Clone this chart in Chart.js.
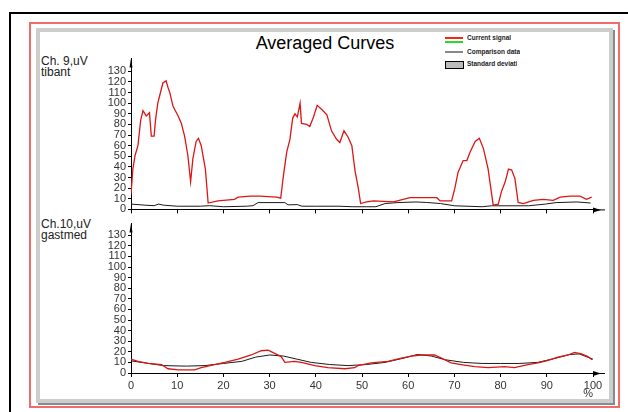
<!DOCTYPE html>
<html>
<head>
<meta charset="utf-8">
<script src="https://cdn.jsdelivr.net/npm/chart.js@4"></script>
<style>
body { margin: 0; width: 628px; height: 412px; background: #fff; position: relative; overflow: hidden; font-family: "Liberation Sans", Arial, sans-serif; }
#outer { position: absolute; left: 9px; top: 12px; width: 640px; height: 420px; border: 2px solid #000; }
#red { position: absolute; left: 29px; top: 22px; width: 587px; height: 382px; border: 2px solid #f26a6a; }
#frame { position: absolute; left: 36px; top: 28px; width: 569px; height: 367px; border: 4px solid #cdcdcd; box-shadow: 2px 2px 0 #8a8a8a; background: #fff; }
.lbl { position: absolute; font-size: 12px; color: #222; line-height: 11px; }
#title { position: absolute; left: 0; top: 33px; width: 650px; text-align: center; font-size: 18px; color: #000; }
.leg { position: absolute; font-size: 6.5px; font-weight: bold; color: #222; line-height: 8px; white-space: nowrap; overflow: hidden; }
.sw { position: absolute; }
canvas { position: absolute; }
</style>
</head>
<body>
<div id="outer"></div>
<div id="red"></div>
<div id="frame"></div>

<div id="title">Averaged Curves</div>

<div class="sw" style="left:445px;top:37px;width:18px;height:1.5px;background:#ff2020"></div>
<div class="sw" style="left:445px;top:41px;width:18px;height:1.5px;background:#20e020"></div>
<div class="leg" style="left:467px;top:34px;">Current signal</div>
<div class="sw" style="left:445px;top:51px;width:18px;height:2px;background:#888"></div>
<div class="leg" style="left:467px;top:48px;">Comparison data</div>
<div class="sw" style="left:445px;top:61px;width:17px;height:6px;background:#bbb;border:1px solid #000"></div>
<div class="leg" style="left:467px;top:60px;width:50px;">Standard deviation</div>

<div class="lbl" style="left:41px;top:56px;">Ch. 9,uV<br>tibant</div>
<div class="lbl" style="left:41px;top:219px;">Ch.10,uV<br>gastmed</div>

<canvas id="topChart" width="570" height="168" style="left:40px;top:50px;"></canvas>
<canvas id="bottomChart" width="570" height="186" style="left:40px;top:215px;"></canvas>

<script>
// Ch. 9 (tibant) - current signal
const ch9CurPct = [0, 0.4, 0.9, 1.5, 2.1, 2.6, 3.3, 4.0, 4.4, 5.0, 5.3, 5.8, 6.2, 6.9, 7.6, 8.0, 8.4, 9.1, 10.2, 10.9,
    11.6, 12.3, 12.9, 13.4, 14.1, 14.6, 15.2, 16.1, 16.7, 18.8, 22.4, 23.2, 25.8, 27.9, 31.5, 32.4, 33.0, 33.7, 34.4, 35.0,
    35.5, 36.0, 36.6, 36.9, 38.0, 38.7, 39.5, 40.3, 41.3, 42.4, 43.4, 44.5, 45.2, 46.1, 47.0, 47.8, 48.5, 49.2, 49.7, 51.0,
    52.5, 56.8, 58.9, 60.4, 64.0, 66.2, 66.9, 69.4, 70.1, 70.8, 71.9, 72.7, 73.4, 74.5, 75.4, 76.3, 77.3, 78.4, 79.5, 80.2,
    81.0, 81.7, 82.4, 83.1, 83.8, 84.9, 87.1, 89.2, 91.4, 92.9, 95.0, 97.2, 98.6, 99.7];
const ch9CurVal = [14, 38, 51, 60, 84, 93, 88, 91, 69, 69, 84, 100, 107, 119, 121, 115, 110, 97, 88, 81,
    69, 51, 26, 48, 64, 67, 60, 38, 6, 8, 9.5, 11.5, 12.5, 12.5, 11.5, 10.5, 32, 54, 66, 86,
    90, 87, 100, 81, 80, 78, 87, 98, 94, 89, 74, 66, 63, 74, 68, 60, 36, 20, 5.5, 7,
    8, 7, 9.5, 11, 11, 11, 8, 8, 20, 35, 46, 46, 54, 64, 67, 57, 38, 4, 5, 17,
    26, 38, 37, 29, 6.5, 5.5, 8.5, 9.5, 8.5, 11.5, 12.5, 12.5, 9.5, 11.5];

// Ch. 9 (tibant) - comparison data
const ch9CmpPct = [0, 3, 5, 6, 7, 10, 15, 17, 20, 25, 26.4, 27.5, 33.3, 34, 36, 37, 40, 45, 48, 51,
    53, 55, 57.6, 61.7, 64, 67, 70, 76, 78, 86, 89.7, 92, 96.5, 99.5];
const ch9CmpVal = [5, 4, 3.5, 5, 4, 3, 3, 3.5, 2.5, 3, 3.5, 6.4, 6.4, 4.3, 4.5, 3, 3, 3, 2.5, 2.5,
    2.5, 5.5, 6.4, 7, 6.5, 5.5, 3.4, 2.5, 3.4, 3.4, 5, 6.4, 7, 6];

// Ch.10 (gastmed) - current signal
const ch10CurPct = [0, 1.5, 3.7, 6.6, 8, 10.2, 13.8, 15.2, 18.1, 20.3, 23.2, 26, 28.2, 29.7, 31.1, 32.5, 33.3, 35.4, 36.9, 39.8,
    42.6, 46.3, 48.4, 49.1, 52, 55.6, 58.5, 60.7, 62.8, 65.7, 67.2, 69.3, 71.5, 74.4, 77.3, 80.9, 83, 85.9, 88.1, 90.3,
    92.4, 94.6, 96, 97.5, 98.9, 99.8];
const ch10CurVal = [13, 11, 9, 8, 4, 3, 3, 5, 8, 10, 13, 17, 21, 21.5, 18.5, 15.5, 10, 11, 10, 7,
    5, 4, 5, 7, 9.5, 11, 14, 16, 17, 17, 14, 9.5, 8, 6, 5, 6, 5, 8, 9.5, 12,
    15, 17, 19.5, 18, 15.5, 12.5];

// Ch.10 (gastmed) - comparison data
const ch10CmpPct = [0, 3, 7, 12, 16, 20, 24, 27, 30, 33, 36, 39, 43, 47, 51, 55, 59, 62, 65, 68,
    72, 76, 80, 84, 88, 92, 95, 97, 100];
const ch10CmpVal = [11.5, 9.5, 7, 6.5, 7, 9, 11, 15, 17, 16, 13, 10, 8, 7, 8, 10, 14, 17.5, 16, 12.5,
    10, 9, 9, 9, 10, 14, 17.5, 18, 13];

const xTicks = [0, 10, 20, 30, 40, 50, 60, 70, 80, 90, 100];
const yTicks = [0, 10, 20, 30, 40, 50, 60, 70, 80, 90, 100, 110, 120, 130];

const toPoints = (xs, ys) => xs.map((x, i) => ({ x: x, y: ys[i] }));

Chart.defaults.font.family = '"Liberation Sans", Arial, sans-serif';
Chart.defaults.font.size = 11;
Chart.defaults.color = '#333';

// axis arrows (x axis extension + arrow head, small arrow on top of y axis)
const arrowPlugin = {
    id: 'arrows',
    afterDraw(chart) {
        const ctx = chart.ctx;
        const a = chart.chartArea;
        ctx.save();
        ctx.strokeStyle = '#000';
        ctx.fillStyle = '#000';
        ctx.lineWidth = 1;
        ctx.beginPath();
        ctx.moveTo(a.right, a.bottom + 0.5);
        ctx.lineTo(a.right + 12, a.bottom + 0.5);
        ctx.stroke();
        ctx.beginPath();
        ctx.moveTo(a.right, a.bottom - 2);
        ctx.lineTo(a.right + 8, a.bottom + 0.5);
        ctx.lineTo(a.right, a.bottom + 3);
        ctx.closePath();
        ctx.fill();
        ctx.beginPath();
        ctx.moveTo(a.left, a.top);
        ctx.lineTo(a.left - 1.5, a.top + 9);
        ctx.lineTo(a.left + 1.5, a.top + 9);
        ctx.closePath();
        ctx.fill();
        ctx.restore();
    }
};

function makeChart(id, cur, cmp, yMax, padTop, xHeight, showLabels) {
    return new Chart(document.getElementById(id).getContext('2d'), {
        type: 'line',
        data: {
            datasets: [
                { label: 'Current signal', data: cur, borderColor: '#dd1515', borderWidth: 1.3, pointRadius: 0, tension: 0, fill: false },
                { label: 'Comparison data', data: cmp, borderColor: '#1a1a1a', borderWidth: 1, pointRadius: 0, tension: 0, fill: false }
            ]
        },
        options: {
            responsive: false,
            animation: false,
            devicePixelRatio: 1,
            layout: { padding: { top: padTop, right: 17, left: 0, bottom: 0 } },
            plugins: { legend: { display: false }, tooltip: { enabled: false } },
            scales: {
                x: {
                    type: 'linear',
                    min: 0,
                    max: 100,
                    afterBuildTicks: s => { s.ticks = xTicks.map(v => ({ value: v })); },
                    ticks: { display: showLabels, autoSkip: false, maxRotation: 0, padding: 2, color: '#333', font: { size: 11 } },
                    grid: { drawOnChartArea: false, tickLength: 4, color: '#000' },
                    border: { color: '#000' },
                    title: { display: showLabels, text: '%', align: 'end', color: '#333', font: { size: 11 }, padding: { top: 0, bottom: 0 } },
                    afterFit: s => { s.height = xHeight; }
                },
                y: {
                    min: 0,
                    max: yMax,
                    afterBuildTicks: s => { s.ticks = yTicks.map(v => ({ value: v })); },
                    ticks: { autoSkip: false, padding: 2, color: '#333', font: { size: 11 } },
                    grid: { drawOnChartArea: false, tickLength: 3, color: '#000' },
                    border: { color: '#000' },
                    afterFit: s => { s.width = 91; }
                }
            }
        },
        plugins: [arrowPlugin]
    });
}

makeChart('topChart', toPoints(ch9CurPct, ch9CurVal), toPoints(ch9CmpPct, ch9CmpVal), 142, 7, 6, false);
makeChart('bottomChart', toPoints(ch10CurPct, ch10CurVal), toPoints(ch10CmpPct, ch10CmpVal), 141, 5, 28, true);
</script>
</body>
</html>
